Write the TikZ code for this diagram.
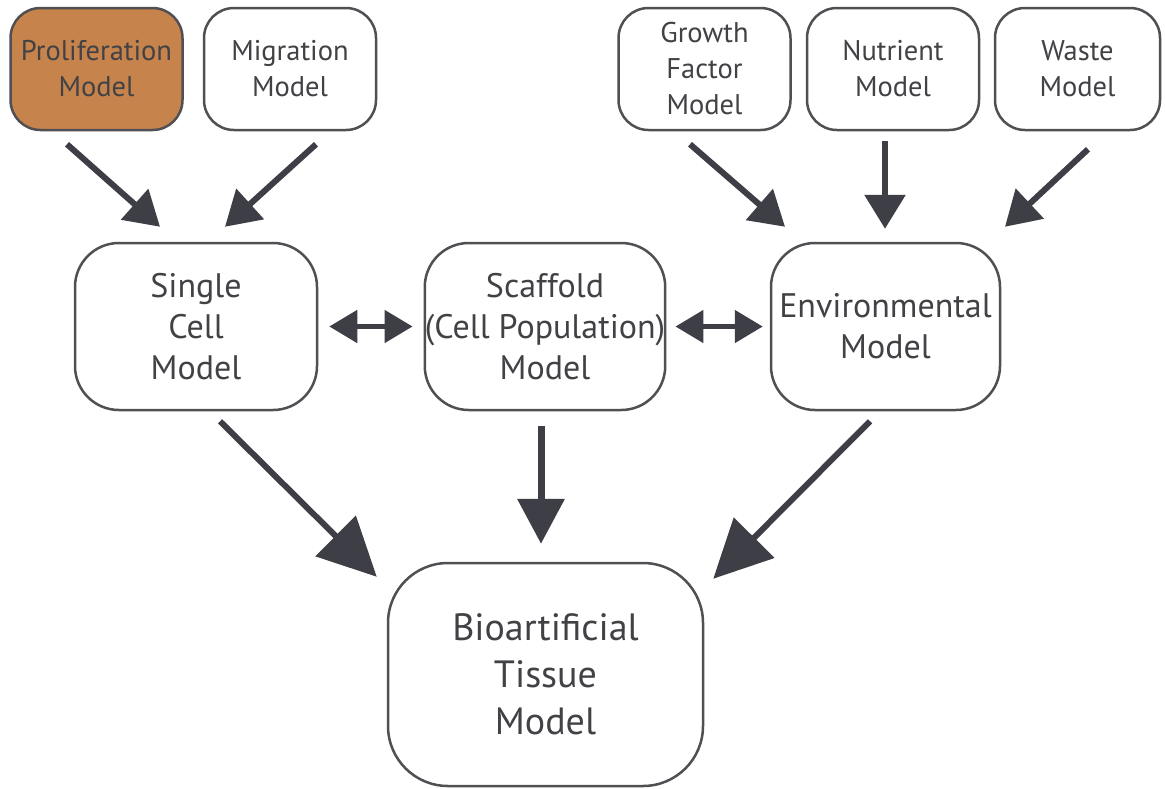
\documentclass[tikz,border=0pt]{standalone}
\usepackage{fontspec}
\setmainfont{PT Sans}
\usetikzlibrary{arrows.meta}
\definecolor{orangefill}{RGB}{199,131,76}
\definecolor{boxline}{RGB}{80,80,84}
\definecolor{txt}{RGB}{66,66,70}
\definecolor{arrcol}{RGB}{62,62,70}
\tikzset{
  smallbox/.style={draw=boxline, line width=2.5pt, rounded corners=30pt, minimum width=172pt, minimum height=122pt, align=center, text=txt, font=\fontsize{28.5}{36}\selectfont, inner sep=0pt},
  bigbox/.style={draw=boxline, line width=2.5pt, rounded corners=44pt, minimum width=240pt, minimum height=167pt, align=center, text=txt, font=\fontsize{34}{41}\selectfont, inner sep=0pt},
  biobox/.style={draw=boxline, line width=2.5pt, rounded corners=60pt, minimum width=315pt, minimum height=223pt, align=center, text=txt, font=\fontsize{38}{47}\selectfont, inner sep=0pt},
  smallarr/.style={draw=arrcol, line width=6pt, -{Triangle[length=34pt,width=40pt]}},
  bigarr/.style={draw=arrcol, line width=6pt, -{Triangle[length=58pt,width=56pt]}},
  dblarr/.style={draw=arrcol, line width=5pt, {Triangle[length=28pt,width=32pt]}-{Triangle[length=28pt,width=32pt]}}
}
\begin{document}
\begin{tikzpicture}[x=1pt,y=-1pt]
\useasboundingbox[fill=white] (0,0) rectangle (1165,788);
\node[smallbox, fill=orangefill] (prolif) at (96.5,69) {Proliferation\\Model};
\node[smallbox] (migr) at (290,69) {Migration\\Model};
\node[smallbox] (growth) at (704.5,69) {Growth\\Factor\\Model};
\node[smallbox] (nutr) at (893,69) {Nutrient\\Model};
\node[smallbox, minimum width=165pt] (waste) at (1077.5,69) {Waste\\Model};
\node[bigbox, minimum width=242pt] (single) at (196,326.5) {Single\\Cell\\Model};
\node[bigbox, minimum width=238pt] (scaff) at (545,326.5) {Scaffold\\(Cell Population)\\Model};
\node[bigbox, minimum width=229pt] (env) at (885.5,326.5) {Environmental\\Model};
\node[biobox] (bio) at (545.5,674.5) {Bioartificial\\Tissue\\Model};
\draw[smallarr] ([shift={(-29.5,13)}]prolif.south) -- ([shift={(-36,-15)}]single.north);
\draw[smallarr] ([shift={(26,13)}]migr.south) -- ([shift={(29,-15)}]single.north);
\draw[smallarr] ([shift={(-14.5,13)}]growth.south) -- ([shift={(-100.5,-15)}]env.north);
\draw[smallarr] ([shift={(-8,10)}]nutr.south) -- ([shift={(-0.5,-13)}]env.north);
\draw[smallarr] ([shift={(10.5,18)}]waste.south) -- ([shift={(119.5,-15)}]env.north);
\draw[dblarr] ([shift={(11,0)}]single.east) -- ([shift={(-11,0)}]scaff.west);
\draw[dblarr] ([shift={(9,0)}]scaff.east) -- ([shift={(-7,0)}]env.west);
\draw[bigarr] ([shift={(24,10)}]single.south) -- ([shift={(-10,15)}]bio.north west);
\draw[smallarr, line width=7pt, -{Triangle[length=45pt,width=46pt]}] ([shift={(-4,15)}]scaff.south) -- ([shift={(-4.5,-18)}]bio.north);
\draw[bigarr] ([shift={(-15.5,10)}]env.south) -- ([shift={(9,17)}]bio.north east);
\end{tikzpicture}
\end{document}
